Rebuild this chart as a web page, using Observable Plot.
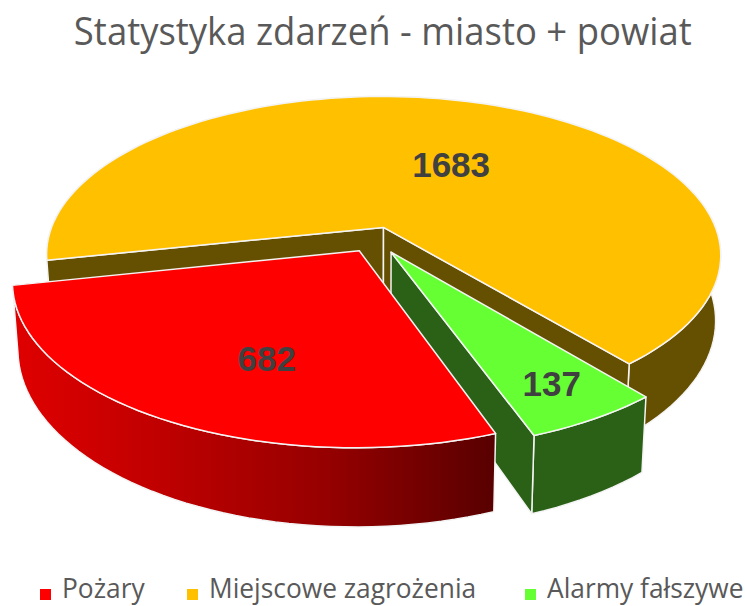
<!DOCTYPE html>
<html><head><meta charset="utf-8">
<script src="https://cdn.jsdelivr.net/npm/d3@7"></script>
<script src="https://cdn.jsdelivr.net/npm/@observablehq/plot@0.6"></script>
<style>
html,body{margin:0;padding:0;background:#fff;overflow:hidden}
#wrap{position:relative;width:745px;height:606px}
#title{position:absolute;left:10px;top:0;width:745px;height:60px;text-align:center;font:38px/60px "Open Sans";color:#595959;white-space:nowrap}
#title span{display:inline-block;transform:scaleX(.96);transform-origin:center}
#chart{position:absolute;left:0;top:60px}
#legend{position:absolute;left:0;top:569px;width:745px;height:37px;font:27px/37px "Open Sans";color:#595959}
#legend .k{position:absolute;top:20px;width:11px;height:11px}
#legend .t{position:absolute;top:0;height:37px;white-space:nowrap;transform-origin:left center}
</style></head><body>
<div id="wrap"><div id="title"><span>Statystyka zdarzeń - miasto + powiat</span></div><div id="chart"></div><div id="legend"></div></div>
<script>
const categories = ["Pożary", "Miejscowe zagrożenia", "Alarmy fałszywe"];
const values = [682, 1683, 137];
const topColors = ["#ff0000", "#ffc000", "#66ff33"];
const sideColors = ["url(#redSide)", "#654f00", "#2a6116"];
const explosion = [0.11, 0.055, 0.112];
const explosionTurn = [0, 0, 9];
const labelRadius = [0.645, 0.485, 0.82];
const labelTurn = [-7.5, 7.8, 0.2];
const legendKeys = [40, 187, 525];
const legendText = [62, 209, 547];

// pie geometry: the perspective camera sits above and in front
const firstAngle = 160, cx = 377, cy = 235, f = 335, s = 156.5, k = 0.175, h = 64, shrink = 0.985;
const total = d3.sum(values);
let angle = firstAngle;
const slices = categories.map((name, i) => {
  const a0 = angle, a1 = angle + values[i] / total * 360; angle = a1;
  const mid = ((a0 + a1) / 2 + explosionTurn[i]) * Math.PI / 180;
  return {name, i, a0, a1, ox: Math.sin(mid) * explosion[i], oy: -Math.cos(mid) * explosion[i]};
});
const project = (X, Y, low) => {
  const w = 1 - k * Y;
  const x = cx + f * X / w, y = cy + s * Y / w;
  return low ? {x: cx + (x - cx) * shrink, y: y + h / w} : {x, y};
};
const at = (sl, r, deg, low) => {
  const t = deg * Math.PI / 180;
  return project(sl.ox + r * Math.sin(t), sl.oy - r * Math.cos(t), low);
};
const arc = (sl, from, to, low) => {
  const n = Math.ceil(Math.abs(to - from) / 2);
  return d3.range(n + 1).map(j => at(sl, 1, from + (to - from) * j / n, low));
};
const apex = (sl, low) => at(sl, 0, 0, low);
const closed = p => [...p, p[0]];
const topFace = sl => closed([apex(sl), ...arc(sl, sl.a0, sl.a1)]);
const sideFace = sl => closed([...arc(sl, sl.a0, sl.a1), ...arc(sl, sl.a1, sl.a0, true)]);
const wallFace = (sl, deg) => closed([apex(sl), at(sl, 1, deg), at(sl, 1, deg, true), apex(sl, true)]);

const face = (pts, fill) => Plot.line(pts, {x: "x", y: "y", fill, stroke: "#f4f4f4", strokeWidth: 1.5, strokeLinejoin: "round"});
const [red, yellow, green] = slices;
const defs = () => {
  const svg = d3.create("svg:defs");
  const g = svg.append("linearGradient").attr("id", "redSide");
  [[0, "#e00000"], [0.3, "#c00000"], [0.65, "#960000"], [1, "#580000"]].forEach(([o, c]) =>
    g.append("stop").attr("offset", o).attr("stop-color", c));
  return svg.node();
};
const labels = slices.map(sl => ({...at(sl, labelRadius[sl.i], (sl.a0 + sl.a1) / 2 + labelTurn[sl.i]), v: values[sl.i]}));

document.getElementById("chart").append(Plot.plot({
  width: 745, height: 510,
  margin: 0,
  x: {domain: [0, 745], range: [0, 745], axis: null},
  y: {domain: [60, 570], range: [0, 510], axis: null},
  style: {background: "transparent"},
  marks: [
    defs,
    face(sideFace(yellow), sideColors[1]),
    face(wallFace(yellow, yellow.a0), sideColors[1]),
    face(wallFace(yellow, yellow.a1), sideColors[1]),
    face(topFace(yellow), topColors[1]),
    face(sideFace(green), sideColors[2]),
    face(wallFace(green, green.a1), sideColors[2]),
    face(topFace(green), topColors[2]),
    face(sideFace(red), sideColors[0]),
    face(topFace(red), topColors[0]),
    Plot.text(labels, {x: "x", y: "y", text: d => String(d.v), fontSize: 35, fontWeight: "bold", fontFamily: "Liberation Sans", fill: "#404040"})
  ]
}));

const legend = d3.select("#legend");
categories.forEach((c, i) => {
  legend.append("div").attr("class", "k").style("left", legendKeys[i] + "px").style("background", topColors[i]);
  legend.append("div").attr("class", "t").style("left", legendText[i] + "px").style("transform", "scaleX(.975)").text(c);
});
</script></body></html>
